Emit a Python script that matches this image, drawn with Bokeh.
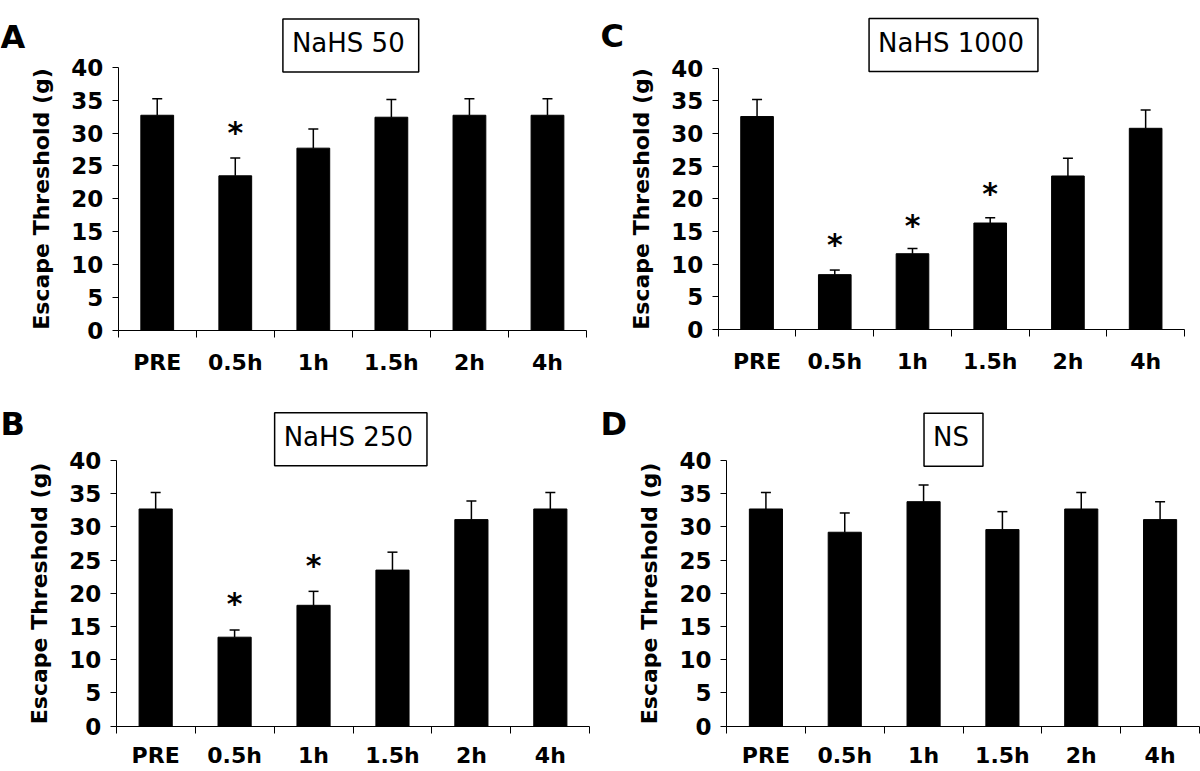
from bokeh.plotting import figure
from bokeh.models import Range1d, FixedTicker, Label, Whisker, ColumnDataSource, TeeHead
from bokeh.layouts import column, row
from bokeh.embed import file_html
from bokeh.resources import INLINE
from bokeh.core.properties import value

# ---------------- data ----------------
categories = ["PRE", "0.5h", "1h", "1.5h", "2h", "4h"]
y_ticks = [0, 5, 10, 15, 20, 25, 30, 35, 40]

mean_A = [32.7, 23.5, 27.7, 32.4, 32.7, 32.7]
err_A = [2.5, 2.7, 2.9, 2.7, 2.5, 2.5]
star_A_cat = ["0.5h"]
star_A_y = [30.6]

mean_B = [32.7, 13.4, 18.2, 23.5, 31.1, 32.7]
err_B = [2.5, 1.1, 2.1, 2.7, 2.8, 2.5]
star_B_cat = ["0.5h", "1h"]
star_B_y = [18.9, 24.7]

mean_C = [32.6, 8.4, 11.6, 16.3, 23.5, 30.8]
err_C = [2.6, 0.7, 0.8, 0.8, 2.7, 2.8]
star_C_cat = ["0.5h", "1h", "1.5h"]
star_C_y = [13.4, 16.4, 21.3]

mean_D = [32.7, 29.2, 33.8, 29.6, 32.7, 31.1]
err_D = [2.5, 2.9, 2.5, 2.7, 2.5, 2.7]
star_D_cat = []
star_D_y = []

FONT = "DejaVu Sans"
Y_MAX = 40


def make_panel(letter, title, means, errs, star_cat, star_y,
               fig_w, fig_h, left, plot_w, y40_px, y0_px, x_standoff,
               box_x, box_y, letter_y):
    """left/plot_w/y40_px/y0_px: pixel layout of the axes inside the figure (from top-left)."""
    n = len(categories)
    xs = [i + 0.5 for i in range(n)]
    cw = plot_w / n                         # px per category
    ppu = (y0_px - y40_px) / Y_MAX          # px per y unit
    p = figure(width=fig_w, height=fig_h,
               min_border_left=0, min_border_right=0,
               min_border_top=0, min_border_bottom=0,
               x_range=Range1d(-left / cw, (fig_w - left) / cw),
               y_range=Range1d(-(fig_h - y0_px) / ppu, y0_px / ppu),
               output_backend="svg", toolbar_location=None, tools="")
    p.outline_line_color = None
    p.xgrid.visible = False
    p.ygrid.visible = False
    p.background_fill_color = "white"
    p.border_fill_color = "white"

    p.vbar(x=xs, top=means, width=0.42, bottom=0, fill_color="black", line_color="black")

    src = ColumnDataSource(dict(x=xs, lower=means, upper=[m + e for m, e in zip(means, errs)]))
    w = Whisker(base="x", lower="lower", upper="upper", source=src, dimension="height",
                line_color="black", line_width=1.5, lower_head=None,
                upper_head=TeeHead(size=10, line_color="black", line_width=1.5),
                level="glyph")
    p.add_layout(w)

    if star_cat:
        sx = [categories.index(c) + 0.5 for c in star_cat]
        p.text(x=sx, y=star_y, text=["*"] * len(sx), text_align="center",
               text_baseline="middle", y_offset=3,
               text_font=value(FONT), text_font_style="bold", text_font_size="30px",
               text_color="black")

    # y axis (placed at x = 0 of the data)
    ya = p.yaxis[0]
    ya.fixed_location = 0
    ya.bounds = (0, Y_MAX)
    ya.ticker = FixedTicker(ticks=y_ticks)
    ya.major_tick_out = 6
    ya.major_tick_in = 0
    ya.minor_tick_out = 0
    ya.minor_tick_in = 0
    ya.axis_line_color = "black"
    ya.major_tick_line_color = "black"
    ya.major_label_text_font = FONT
    ya.major_label_text_font_style = "bold"
    ya.major_label_text_font_size = "23px"
    ya.major_label_text_color = "black"
    ya.major_label_standoff = 9
    ya.axis_label = "Escape Threshold (g)"
    ya.axis_label_text_font = FONT
    ya.axis_label_text_font_style = "bold"
    ya.axis_label_text_font_size = "22px"
    ya.axis_label_text_color = "black"
    ya.axis_label_standoff = 14

    # x axis at y = 0: labels at category centres, ticks at category boundaries
    xa = p.xaxis[0]
    xa.fixed_location = 0
    xa.bounds = (0, n)
    xa.ticker = FixedTicker(ticks=xs, minor_ticks=list(range(n + 1)))
    xa.major_label_overrides = {x: c for x, c in zip(xs, categories)}
    xa.major_tick_out = 0
    xa.major_tick_in = 0
    xa.minor_tick_out = 7
    xa.minor_tick_in = 0
    xa.minor_tick_line_color = "black"
    xa.axis_line_color = "black"
    xa.major_label_text_font = FONT
    xa.major_label_text_font_style = "bold"
    xa.major_label_text_font_size = "22px"
    xa.major_label_text_color = "black"
    xa.major_label_standoff = x_standoff

    p.add_layout(Label(x=box_x, y=fig_h - box_y, x_units="screen", y_units="screen", text=title,
                       text_font=FONT, text_font_size="26px", text_color="black",
                       text_align="center", text_baseline="middle",
                       border_line_color="black", border_line_width=1.5,
                       background_fill_color="white", padding=(9, 14, 9, 14)))
    p.add_layout(Label(x=0, y=fig_h - letter_y, x_units="screen", y_units="screen", text=letter,
                       text_font=FONT, text_font_style="bold", text_font_size="32px",
                       text_color="black", text_align="left", text_baseline="alphabetic"))
    return p


# layout numbers are pixel positions inside each figure (from its top-left corner)
pA = make_panel("A", "NaHS 50", mean_A, err_A, star_A_cat, star_A_y,
                600, 380, 117.7, 468.3, 66.7, 330.0, 12, 350.3, 44.9, 36.7)
pC = make_panel("C", "NaHS 1000", mean_C, err_C, star_C_cat, star_C_y,
                600, 380, 117.7, 466.3, 67.7, 329.0, 12, 353.0, 44.5, 35.5)
pB = make_panel("B", "NaHS 250", mean_B, err_B, star_B_cat, star_B_y,
                600, 390, 115.7, 473.6, 80.0, 345.7, 10, 350.3, 58.7, 43.3)
pD = make_panel("D", "NS", mean_D, err_D, star_D_cat, star_D_y,
                600, 390, 126.0, 473.0, 80.0, 345.7, 10, 353.0, 59.2, 43.3)

layout = column(row(pA, pC), row(pB, pD))

with open("out.html", "w") as f:
    f.write(file_html(layout, INLINE))
